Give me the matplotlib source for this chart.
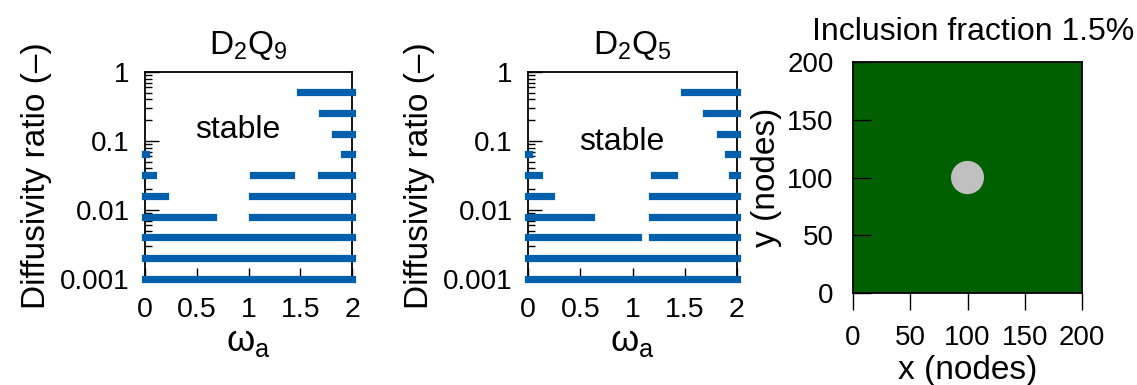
import numpy as np
import matplotlib
matplotlib.use("Agg")
from matplotlib import pyplot as plt
from matplotlib.patches import Circle

plt.rcParams['font.family'] = ['Liberation Sans', 'DejaVu Sans']
plt.rcParams['mathtext.default'] = 'regular'

# diffusivity ratio levels (bottom to top)
levels = [0.001, 0.002, 0.004, 0.008, 0.016, 0.032, 0.064, 0.128, 0.256, 0.512]

# unstable omega_a ranges for each level
d2q9_segs = [
    [(0, 2)],
    [(0, 2)],
    [(0, 2)],
    [(0, 0.66), (1.03, 2)],
    [(0, 0.19), (1.03, 2)],
    [(0, 0.08), (1.04, 1.41), (1.70, 2)],
    [(0, 0.01), (1.92, 2)],
    [(1.84, 2)],
    [(1.71, 2)],
    [(1.50, 2)],
]
d2q5_segs = [
    [(0, 2)],
    [(0, 2)],
    [(0, 1.05), (1.19, 2)],
    [(0, 0.60), (1.19, 2)],
    [(0, 0.22), (1.19, 2)],
    [(0, 0.11), (1.21, 1.40), (1.95, 2)],
    [(0, 0.01), (1.91, 2)],
    [(1.84, 2)],
    [(1.70, 2)],
    [(1.49, 2)],
]

titles = ['D$_2$Q$_9$', 'D$_2$Q$_5$']
stable_pos = [(0.9, 0.145), (0.9, 0.098)]

# inclusion geometry
domain = 200
incl_center = (100, 100)
incl_radius = 13.8

blue = '#0060ad'
W, H = 1137, 385
fig = plt.figure(figsize=(W / 100, H / 100), dpi=100)


def box(l, t, r, b):
    return [l / W, (H - b) / H, (r - l) / W, (b - t) / H]


axes_px = [(145, 72, 352, 279), (528, 72, 737, 279)]
for k, segs in enumerate([d2q9_segs, d2q5_segs]):
    ax = fig.add_axes(box(*axes_px[k]))
    for lev, row in zip(levels, segs):
        for (a, b) in row:
            ax.hlines(lev, a, b, color=blue, lw=5.2, capstyle='projecting',
                      clip_on=False, zorder=3)
    ax.set_yscale('log')
    ax.set_ylim(0.001, 1)
    ax.set_xlim(0, 2)
    ax.set_xticks([0, 0.5, 1, 1.5, 2])
    ax.set_xticklabels(['0', '0.5', '1', '1.5', '2'])
    ax.set_yticks([0.001, 0.01, 0.1, 1])
    ax.set_yticklabels(['0.001', '0.01', '0.1', '1'])
    ax.tick_params(axis='both', which='both', direction='in', top=False, right=False)
    ax.tick_params(axis='y', which='major', length=10, width=1, pad=11, labelsize=20)
    ax.tick_params(axis='y', which='minor', length=5, width=1)
    ax.tick_params(axis='x', which='major', length=8, width=1, pad=13, labelsize=20.5)
    for s in ax.spines.values():
        s.set_linewidth(1.3)
    ax.set_title(titles[k], fontsize=24, pad=13)
    ax.set_xlabel(r'$\omega_a$', fontsize=26, labelpad=1)
    ax.set_ylabel('Diffusivity ratio (–)', fontsize=24, labelpad=6)
    ax.text(stable_pos[k][0], stable_pos[k][1], 'stable', fontsize=23,
            ha='center', va='center')

ax3 = fig.add_axes(box(853, 62, 1082, 293))
ax3.set_facecolor('#006000')
ax3.add_patch(Circle(incl_center, incl_radius, color='#c0c0c0', zorder=2))
ax3.set_xlim(0, domain)
ax3.set_ylim(0, domain)
ax3.set_xticks([0, 50, 100, 150, 200])
ax3.set_yticks([0, 50, 100, 150, 200])
ax3.tick_params(axis='x', direction='out', length=12, width=1, pad=11, labelsize=20,
                top=False)
ax3.tick_params(axis='y', direction='in', length=13, width=1, pad=14, labelsize=20,
                right=False)
for s in ax3.spines.values():
    s.set_linewidth(1.3)
ax3.set_title('Inclusion fraction 1.5%', fontsize=23, pad=16, x=0.524)
ax3.set_xlabel('x (nodes)', fontsize=24, labelpad=3)
ax3.set_ylabel('y (nodes)', fontsize=24, labelpad=3.5)

fig.savefig('out.png', dpi=100)
